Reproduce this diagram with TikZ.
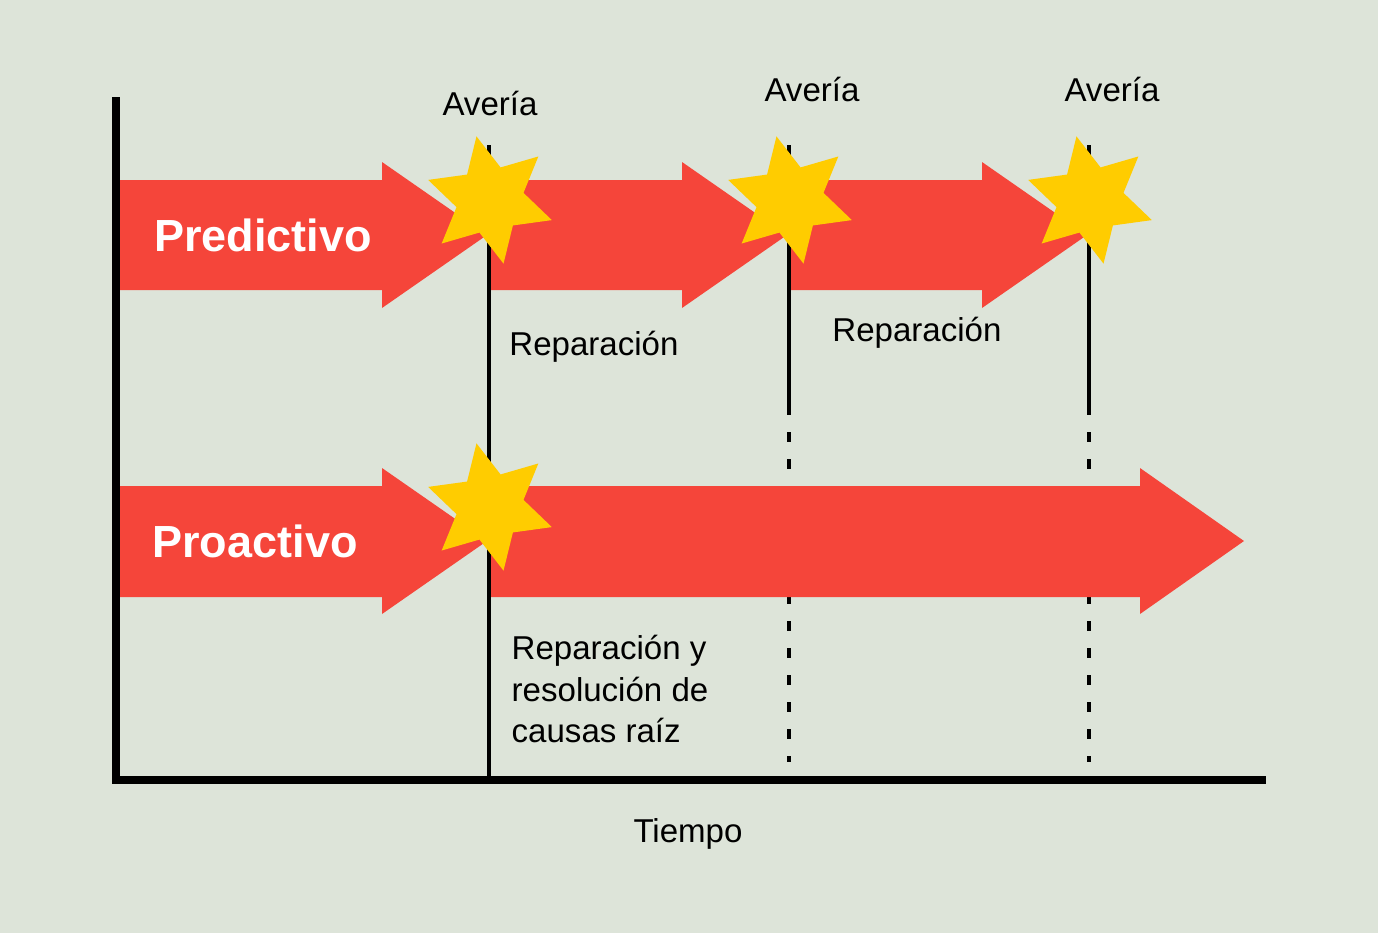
\documentclass[tikz,border=0pt]{standalone}
\usepackage{fontspec}
\setmainfont{Liberation Sans}
\usetikzlibrary{shapes.geometric}
\definecolor{bggray}{RGB}{221,228,217}
\definecolor{flowred}{RGB}{245,69,58}
\definecolor{staryellow}{RGB}{255,204,0}

\begin{document}
\begin{tikzpicture}[x=0.01cm,y=-0.01cm,
  every node/.style={font=\fontsize{9.4}{11.8}\selectfont,inner sep=0pt},
  flow/.style={fill=flowred},
  fault/.style={star,star points=6,star point ratio=1.9,minimum size=1.3cm,
    shape border rotate=12,fill=staryellow},
  timeline/.style={line width=0.04cm},
  axis/.style={line width=0.08cm},
  label/.style={text=white,font=\bfseries\fontsize{12.8}{15}\selectfont}]
\fill[bggray] (0,0) rectangle (1378,933);
% lines of each failure
\coordinate (t1) at (489,145);
\coordinate (t2) at (789,145);
\coordinate (t3) at (1089,145);
\coordinate (b1) at (489,783);
\coordinate (e2) at (789,415);
\coordinate (e3) at (1089,415);
\coordinate (d2) at (789,432);
\coordinate (d3) at (1089,432);
\coordinate (f2) at (789,762);
\coordinate (f3) at (1089,762);
\draw[timeline] (t1) -- (b1);
\draw[timeline] (t2) -- (e2);
\draw[timeline] (t3) -- (e3);
\draw[timeline,dash pattern=on 0.1cm off 0.17cm] (d2) -- (f2);
\draw[timeline,dash pattern=on 0.1cm off 0.17cm] (d3) -- (f3);
% arrows, predictive row
\fill[flow] (120,180) -- (382,180) -- (382,162) -- (487,235) -- (382,308) -- (382,290) -- (120,290) -- cycle;
\fill[flow] (491,180) -- (682,180) -- (682,162) -- (787,235) -- (682,308) -- (682,290) -- (491,290) -- cycle;
\fill[flow] (791,180) -- (982,180) -- (982,162) -- (1087,235) -- (982,308) -- (982,290) -- (791,290) -- cycle;
% arrows, proactive row
\fill[flow] (120,486) -- (382,486) -- (382,468) -- (487,541) -- (382,614) -- (382,597) -- (120,597) -- cycle;
\fill[flow] (491,486) -- (1140,486) -- (1140,468) -- (1244,541) -- (1140,614) -- (1140,597) -- (491,597) -- cycle;
% failures
\node[fault] (s1) at (490,200) {};
\node[fault] (s2) at (790,200) {};
\node[fault] (s3) at (1090,200) {};
\node[fault] (s4) at (490,507) {};
% axes
\coordinate (o) at (116,780);
\coordinate (ytop) at (116,97);
\coordinate (xend) at (1266,780);
\draw[axis] (ytop) -- (o) -- (xend);
% texts
\node[label,anchor=base] (pred) at (263,251) {Predictivo};
\node[label,anchor=base] (proa) at (255,557) {Proactivo};
\node[anchor=base] (a1) at (490,115) {Avería};
\node[anchor=base] (a2) at (812,101) {Avería};
\node[anchor=base] (a3) at (1112,101) {Avería};
\node[anchor=base] (r1) at (594,355) {Reparación};
\node[anchor=base] (r2) at (917,341) {Reparación};
\node[anchor=west,align=left] (r3) at (511,689) {Reparación y\\resolución de\\causas raíz};
\node[anchor=base] (time) at (688,842) {Tiempo};
\end{tikzpicture}
\end{document}
